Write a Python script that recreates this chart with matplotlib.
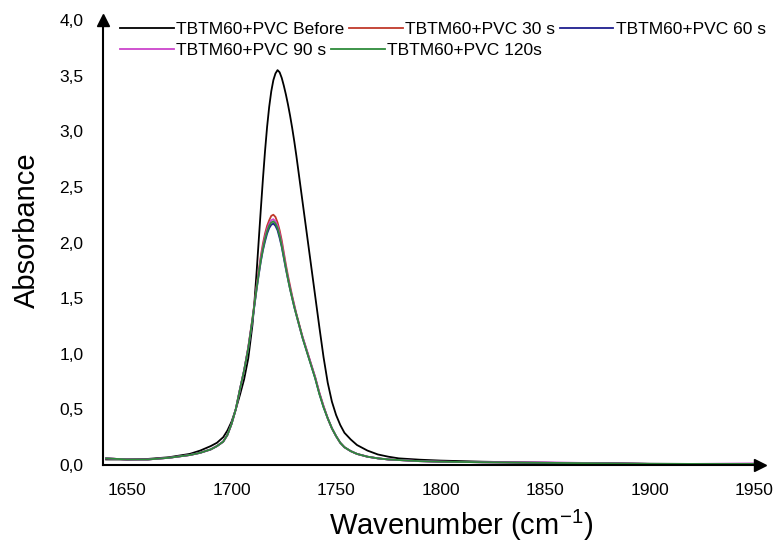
import matplotlib
matplotlib.use("Agg")
import matplotlib.pyplot as plt
from matplotlib.lines import Line2D

plt.rcParams['font.family'] = ['Liberation Sans', 'DejaVu Sans']
plt.rcParams['mathtext.fontset'] = 'custom'
plt.rcParams['mathtext.rm'] = 'Liberation Sans'
plt.rcParams['mathtext.it'] = 'Liberation Sans'

# wavenumbers (cm-1) shared by all spectra
wavenumber = [1640, 1650, 1660, 1670, 1680, 1685, 1690, 1693, 1696, 1698,
              1700, 1702, 1704, 1706, 1708, 1710, 1711, 1712, 1713, 1714,
              1715, 1716, 1717, 1718, 1719, 1720, 1721, 1722, 1723, 1724,
              1725, 1726, 1727, 1728, 1729, 1730, 1731, 1732, 1733, 1734,
              1735, 1736, 1737, 1738, 1739, 1740, 1742, 1744, 1746, 1748,
              1750, 1752, 1754, 1757, 1760, 1765, 1770, 1775, 1780, 1790,
              1800, 1820, 1850, 1880, 1900, 1920, 1950]

before = [0.05, 0.05, 0.055, 0.07, 0.10, 0.13, 0.17, 0.20, 0.25, 0.31,
          0.39, 0.50, 0.63, 0.77, 0.96, 1.26, 1.48, 1.74, 2.02, 2.30,
          2.57, 2.82, 3.04, 3.22, 3.36, 3.46, 3.52, 3.55, 3.53, 3.48,
          3.41, 3.33, 3.24, 3.14, 3.03, 2.91, 2.78, 2.64, 2.50, 2.36,
          2.22, 2.08, 1.94, 1.80, 1.66, 1.52, 1.24, 0.97, 0.74, 0.57,
          0.45, 0.36, 0.29, 0.23, 0.18, 0.13, 0.095, 0.075, 0.06, 0.048,
          0.04, 0.03, 0.02, 0.015, 0.012, 0.01, 0.01]

s30 = [0.06, 0.05, 0.05, 0.065, 0.09, 0.11, 0.14, 0.17, 0.21, 0.27,
       0.37, 0.50, 0.68, 0.85, 1.06, 1.32, 1.46, 1.61, 1.75, 1.88,
       1.99, 2.08, 2.15, 2.20, 2.24, 2.25, 2.23, 2.18, 2.11, 2.02,
       1.91, 1.80, 1.70, 1.61, 1.52, 1.44, 1.36, 1.29, 1.22, 1.15,
       1.09, 1.03, 0.97, 0.91, 0.85, 0.79, 0.65, 0.53, 0.42, 0.33,
       0.26, 0.20, 0.16, 0.125, 0.10, 0.075, 0.06, 0.05, 0.045, 0.035,
       0.03, 0.025, 0.02, 0.015, 0.01, 0.01, 0.01]

s60 = [0.06, 0.05, 0.05, 0.065, 0.09, 0.11, 0.14, 0.17, 0.21, 0.27,
       0.37, 0.50, 0.68, 0.85, 1.05, 1.30, 1.44, 1.58, 1.71, 1.83,
       1.93, 2.01, 2.08, 2.13, 2.16, 2.17, 2.15, 2.11, 2.04, 1.96,
       1.86, 1.76, 1.67, 1.58, 1.50, 1.42, 1.35, 1.28, 1.21, 1.14,
       1.08, 1.02, 0.96, 0.90, 0.84, 0.78, 0.64, 0.52, 0.42, 0.33,
       0.26, 0.20, 0.16, 0.125, 0.10, 0.075, 0.06, 0.05, 0.045, 0.035,
       0.03, 0.025, 0.02, 0.015, 0.01, 0.01, 0.01]

s90 = [0.06, 0.05, 0.05, 0.065, 0.09, 0.11, 0.14, 0.17, 0.21, 0.27,
       0.37, 0.50, 0.68, 0.85, 1.06, 1.31, 1.45, 1.60, 1.73, 1.86,
       1.96, 2.05, 2.12, 2.17, 2.20, 2.21, 2.19, 2.15, 2.08, 1.99,
       1.89, 1.78, 1.68, 1.59, 1.51, 1.43, 1.35, 1.28, 1.21, 1.15,
       1.09, 1.03, 0.97, 0.91, 0.85, 0.79, 0.65, 0.53, 0.42, 0.33,
       0.26, 0.20, 0.16, 0.125, 0.10, 0.075, 0.06, 0.05, 0.045, 0.035,
       0.03, 0.025, 0.025, 0.015, 0.01, 0.01, 0.015]

s120 = [0.06, 0.05, 0.05, 0.065, 0.09, 0.11, 0.14, 0.17, 0.21, 0.27,
        0.37, 0.50, 0.68, 0.85, 1.05, 1.31, 1.45, 1.59, 1.72, 1.84,
        1.94, 2.03, 2.10, 2.15, 2.18, 2.19, 2.17, 2.13, 2.06, 1.97,
        1.87, 1.77, 1.67, 1.58, 1.50, 1.42, 1.35, 1.28, 1.21, 1.14,
        1.08, 1.02, 0.96, 0.90, 0.84, 0.78, 0.64, 0.52, 0.42, 0.33,
        0.26, 0.20, 0.16, 0.125, 0.10, 0.075, 0.06, 0.05, 0.045, 0.035,
        0.03, 0.025, 0.02, 0.015, 0.01, 0.01, 0.01]

labels = ['TBTM60+PVC Before', 'TBTM60+PVC 30 s', 'TBTM60+PVC 60 s',
          'TBTM60+PVC 90 s', 'TBTM60+PVC 120s']
colors = ['black', '#c0392b', '#1f1f8f', '#cc44cc', '#2e8b3a']
series = [before, s30, s60, s90, s120]

xticks = [1650, 1700, 1750, 1800, 1850, 1900, 1950]
yticks = [0.0, 0.5, 1.0, 1.5, 2.0, 2.5, 3.0, 3.5, 4.0]

fig = plt.figure(figsize=(7.78, 5.42), dpi=100)
ax = fig.add_axes([0.1324, 0.142, 0.845, 0.821])

for ys, c, lab in zip(series, colors, labels):
    ax.plot(wavenumber, ys, color=c, lw=1.3, label=lab)

ax.set_xlim(1638.5, 1953)
ax.set_ylim(0, 4.0)
ax.set_xticks(xticks)
ax.set_xticklabels([str(t) for t in xticks])
ax.set_yticks(yticks)
ax.set_yticklabels([('%.1f' % t).replace('.', ',') for t in yticks])
ax.tick_params(length=0, labelsize=12.5)
ax.tick_params(axis='y', pad=14)
ax.tick_params(axis='x', pad=13)

for s in ['top', 'right']:
    ax.spines[s].set_visible(False)
for s in ['left', 'bottom']:
    ax.spines[s].set_linewidth(1.5)

# axis arrows
ax.plot(0, 1, '^k', ms=8, transform=ax.transAxes, clip_on=False)
ax.plot(1, 0, '>k', ms=8, transform=ax.transAxes, clip_on=False)

ax.set_xlabel('Wavenumber (cm$^{-1}$)', fontsize=21)
ax.xaxis.set_label_coords(0.545, -0.095)
ax.set_ylabel('Absorbance', fontsize=21)
ax.yaxis.set_label_coords(-0.095, 0.528)

# legend laid out in two rows like the original
h = [Line2D([], [], color=c, lw=1.3) for c in colors]
kw = dict(frameon=False, fontsize=12.5, handlelength=3.1, handletextpad=0.15,
          columnspacing=0.25, borderaxespad=0, borderpad=0)
leg1 = fig.legend(h[:3], labels[:3], loc='center left', bbox_to_anchor=(0.154, 0.946),
                  ncol=3, **kw)
leg2 = fig.legend(h[3:], labels[3:], loc='center left', bbox_to_anchor=(0.154, 0.907),
                  ncol=2, **kw)

fig.savefig('out.png', dpi=100)
plt.close(fig)
